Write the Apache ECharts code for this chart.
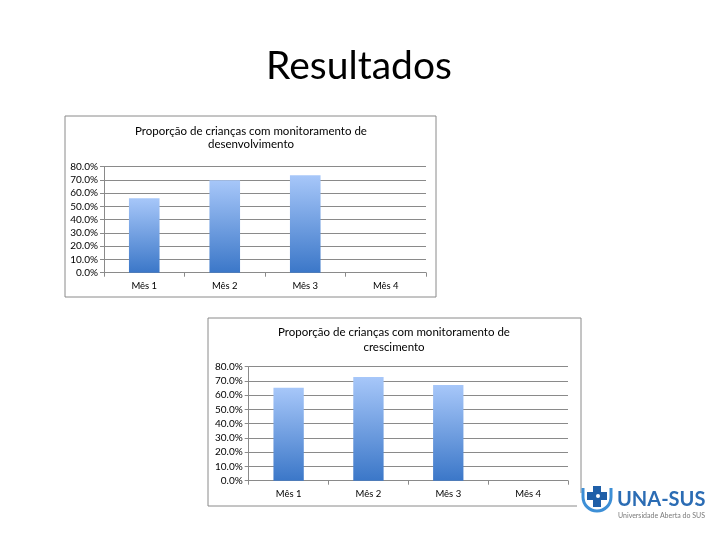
<!DOCTYPE html>
<html>
<head>
<meta charset="utf-8">
<script src="https://cdn.jsdelivr.net/npm/echarts@6/dist/echarts.min.js"></script>
<style>
html,body{margin:0;padding:0;background:#fff;}
#chart{width:720px;height:540px;}
</style>
</head>
<body>
<div id="chart"></div>
<script>
// ---- data ----
var pageTitle = 'Resultados';
var categories = ['Mês 1', 'Mês 2', 'Mês 3', 'Mês 4'];
var title1 = 'Proporção de crianças com monitoramento de\ndesenvolvimento';
var title2 = 'Proporção de crianças com monitoramento de\ncrescimento';
var desenvolvimento = [56.2, 69.8, 73.5, null];
var crescimento = [65.3, 72.8, 67.2, null];
var yMin = 0, yMax = 80, yStep = 10;
var logoName = 'UNA-SUS';
var logoSub = 'Universidade Aberta do SUS';

var FONT = 'Lato, "Open Sans", sans-serif';
var GRID_C = '#8a8a8a';

function barGradient() {
  return new echarts.graphic.LinearGradient(0, 0, 0, 1, [
    {offset: 0, color: '#a7c7f9'},
    {offset: 1, color: '#3b77c8'}
  ]);
}
function yAxisCfg(gi) {
  return {
    gridIndex: gi, type: 'value', min: yMin, max: yMax, interval: yStep,
    axisLine: {show: true, lineStyle: {color: GRID_C, width: 1}},
    axisTick: {show: true, length: 4, lineStyle: {color: GRID_C}},
    splitLine: {show: true, lineStyle: {color: GRID_C, width: 1}},
    axisLabel: {margin: 6, fontFamily: FONT, fontSize: 10, color: '#000',
      formatter: function (v) { return v.toFixed(1) + '%'; }}
  };
}
function xAxisCfg(gi) {
  return {
    gridIndex: gi, type: 'category', data: categories,
    axisLine: {show: true, lineStyle: {color: GRID_C, width: 1}},
    axisTick: {show: true, length: 4, alignWithLabel: false, lineStyle: {color: GRID_C}},
    axisLabel: {margin: 8, fontFamily: FONT, fontSize: 9.5, color: '#000'}
  };
}

var chart = echarts.init(document.getElementById('chart'), null, {renderer: 'canvas'});
chart.setOption({
  backgroundColor: '#fff',
  animation: false,
  title: [
    {text: pageTitle, left: 359, top: 47, textAlign: 'center', padding: 0,
     textStyle: {fontFamily: FONT, fontSize: 39, fontWeight: 'normal', color: '#000'}},
    {text: title1, left: 251, top: 125, textAlign: 'center', padding: 0,
     textStyle: {fontFamily: FONT, fontSize: 11.5, fontWeight: 'normal', color: '#000', lineHeight: 13}},
    {text: title2, left: 394, top: 325, textAlign: 'center', padding: 0,
     textStyle: {fontFamily: FONT, fontSize: 11.5, fontWeight: 'normal', color: '#000', lineHeight: 15}}
  ],
  grid: [
    {left: 104, right: 294, top: 166.7, bottom: 267.3, containLabel: false},
    {left: 248.7, right: 152, top: 366.7, bottom: 59.3, containLabel: false}
  ],
  xAxis: [xAxisCfg(0), xAxisCfg(1)],
  yAxis: [yAxisCfg(0), yAxisCfg(1)],
  series: [
    {type: 'bar', xAxisIndex: 0, yAxisIndex: 0, data: desenvolvimento, barWidth: '38%',
     itemStyle: {color: barGradient()}},
    {type: 'bar', xAxisIndex: 1, yAxisIndex: 1, data: crescimento, barWidth: '38%',
     itemStyle: {color: barGradient()}}
  ],
  graphic: [
    {type: 'rect', shape: {x: 65, y: 116, width: 371, height: 181}, z: 0,
     style: {fill: 'transparent', stroke: GRID_C, lineWidth: 1}},
    {type: 'rect', shape: {x: 208, y: 318, width: 373, height: 188}, z: 0,
     style: {fill: 'transparent', stroke: GRID_C, lineWidth: 1}},
    // logo background
    {type: 'rect', shape: {x: 577, y: 493, width: 140, height: 36}, z: 50,
     style: {fill: '#fff'}},
    {type: 'rect', shape: {x: 583, y: 485, width: 32, height: 10}, z: 50,
     style: {fill: '#fff'}},
    // logo icon: U ring
    {type: 'arc', shape: {cx: 597, cy: 497, r: 14, startAngle: 0, endAngle: Math.PI, clockwise: true}, z: 51,
     style: {stroke: '#3d8fd6', lineWidth: 3, fill: null}},
    {type: 'line', shape: {x1: 583, y1: 488, x2: 583, y2: 497}, z: 51, style: {stroke: '#3d8fd6', lineWidth: 3}},
    {type: 'line', shape: {x1: 611, y1: 488, x2: 611, y2: 497}, z: 51, style: {stroke: '#3d8fd6', lineWidth: 3}},
    // cross
    {type: 'rect', shape: {x: 593, y: 486, width: 8, height: 21}, z: 52, style: {fill: '#1f5fa8'}},
    {type: 'rect', shape: {x: 587, y: 492, width: 20, height: 8}, z: 52, style: {fill: '#1f5fa8'}},
    {type: 'circle', shape: {cx: 598, cy: 496, r: 2}, z: 53, style: {fill: '#ffffff'}},
    {type: 'text', x: 617, y: 500, z: 52,
     style: {text: logoName, fontFamily: FONT, fontSize: 20, fontWeight: 'bold', fill: '#2b6cb4',
             textAlign: 'left', textVerticalAlign: 'middle'}},
    {type: 'text', x: 618, y: 515.5, z: 52,
     style: {text: logoSub, fontFamily: FONT, fontSize: 7, fill: '#7a7a7a',
             textAlign: 'left', textVerticalAlign: 'middle'}}
  ]
});
</script>
</body>
</html>
